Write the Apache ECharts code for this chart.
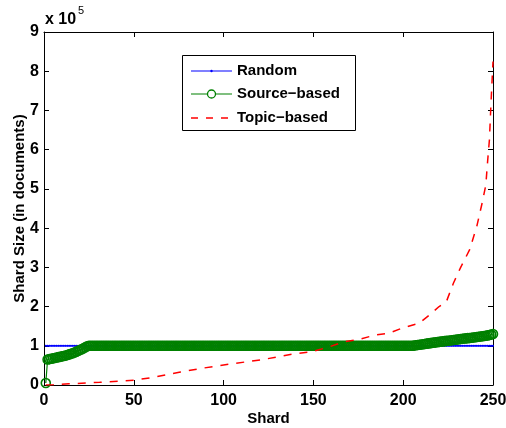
<!DOCTYPE html>
<html>
<head>
<meta charset="utf-8">
<script src="https://cdn.jsdelivr.net/npm/echarts@6/dist/echarts.min.js"></script>
<style>html,body{margin:0;padding:0;background:#fff;}#c{width:506px;height:428px;}</style>
</head>
<body>
<div id="c"></div>
<script>
var xTicks = [0, 50, 100, 150, 200, 250];
var yTickLabels = ['0','1','2','3','4','5','6','7','8','9'];
var seriesNames = ['Random', 'Source\u2212based', 'Topic\u2212based'];

var randomSizes = [
100000,100000,100000,100000,100000,100000,100000,100000,100000,100000,
100000,100000,100000,100000,100000,100000,100000,100000,100000,100000,
100000,100000,100000,100000,100000,100000,100000,100000,100000,100000,
100000,100000,100000,100000,100000,100000,100000,100000,100000,100000,
100000,100000,100000,100000,100000,100000,100000,100000,100000,100000,
100000,100000,100000,100000,100000,100000,100000,100000,100000,100000,
100000,100000,100000,100000,100000,100000,100000,100000,100000,100000,
100000,100000,100000,100000,100000,100000,100000,100000,100000,100000,
100000,100000,100000,100000,100000,100000,100000,100000,100000,100000,
100000,100000,100000,100000,100000,100000,100000,100000,100000,100000,
100000,100000,100000,100000,100000,100000,100000,100000,100000,100000,
100000,100000,100000,100000,100000,100000,100000,100000,100000,100000,
100000,100000,100000,100000,100000,100000,100000,100000,100000,100000,
100000,100000,100000,100000,100000,100000,100000,100000,100000,100000,
100000,100000,100000,100000,100000,100000,100000,100000,100000,100000,
100000,100000,100000,100000,100000,100000,100000,100000,100000,100000,
100000,100000,100000,100000,100000,100000,100000,100000,100000,100000,
100000,100000,100000,100000,100000,100000,100000,100000,100000,100000,
100000,100000,100000,100000,100000,100000,100000,100000,100000,100000,
100000,100000,100000,100000,100000,100000,100000,100000,100000,100000,
100000,100000,100000,100000,100000,100000,100000,100000,100000,100000,
100000,100000,100000,100000,100000,100000,100000,100000,100000,100000,
100000,100000,100000,100000,100000,100000,100000,100000,100000,100000,
100000,100000,100000,100000,100000,100000,100000,100000,100000,100000,
100000,100000,100000,100000,100000,100000,100000,100000,100000,100000
];

var sourceSizes = [
5000,65000,66000,67000,68000,69000,70000,71000,72000,73000,
74000,75000,76500,78000,79500,81000,83000,85000,87000,89000,
91000,93500,96000,98500,100000,
100000,100000,100000,100000,100000,100000,100000,100000,100000,100000,
100000,100000,100000,100000,100000,100000,100000,100000,100000,100000,
100000,100000,100000,100000,100000,100000,100000,100000,100000,100000,
100000,100000,100000,100000,100000,100000,100000,100000,100000,100000,
100000,100000,100000,100000,100000,100000,100000,100000,100000,100000,
100000,100000,100000,100000,100000,100000,100000,100000,100000,100000,
100000,100000,100000,100000,100000,100000,100000,100000,100000,100000,
100000,100000,100000,100000,100000,100000,100000,100000,100000,100000,
100000,100000,100000,100000,100000,100000,100000,100000,100000,100000,
100000,100000,100000,100000,100000,100000,100000,100000,100000,100000,
100000,100000,100000,100000,100000,100000,100000,100000,100000,100000,
100000,100000,100000,100000,100000,100000,100000,100000,100000,100000,
100000,100000,100000,100000,100000,100000,100000,100000,100000,100000,
100000,100000,100000,100000,100000,100000,100000,100000,100000,100000,
100000,100000,100000,100000,100000,100000,100000,100000,100000,100000,
100000,100000,100000,100000,100000,100000,100000,100000,100000,100000,
100000,100000,100000,100000,100000,100000,100000,100000,100000,100000,
100000,100000,100000,100000,100000,100000,100000,100000,100000,100000,
100500,101200,101900,102600,103300,104000,104700,105400,106000,106700,
107400,108000,108700,109300,110000,110600,111200,111800,112400,113000,
113600,114200,114800,115400,116000,116600,117200,117800,118400,119000,
119500,120000,120600,121200,121800,122400,123000,123600,124200,124900,
125600,126400,127300,128500,130000
];

var topicShards = [1,5,14,31,50,60,68,76,87,103,122,140,149,158,166,176,184,192,200,209,215,220,224,228,232,237,241,244,246,247,248,249,250];
var topicSizes  = [0,500,3000,7000,12000,19000,26000,33000,42000,53000,65000,80000,85000,96000,109000,117000,127000,132000,146000,158000,180000,200000,212000,260000,300000,345000,405000,465000,510000,570000,625000,730000,825000];

var FONT = 'Arial, "Liberation Sans", Helvetica, sans-serif';
var COLORS = ['#0000ff', '#008000', '#ff0000'];

function pairs(xs, ys) {
  var out = [];
  for (var i = 0; i < ys.length; i++) out.push([xs[i], ys[i]]);
  return out;
}
var shardIds = [];
for (var i = 1; i <= sourceSizes.length; i++) shardIds.push(i);

var chart = echarts.init(document.getElementById('c'), null, {renderer: 'canvas'});

function axisCommon() {
  return {
    axisLine: {show: true, onZero: false, lineStyle: {color: '#000', width: 1}},
    axisTick: {show: true, inside: true, length: 5, lineStyle: {color: '#000'}},
    splitLine: {show: false},
    nameMoveOverlap: false
  };
}

// legend drawn as graphic elements (box, sample lines, markers, labels)
var LG = {x: 182, y: 55, w: 173, h: 75, rows: [71, 94, 118], lx0: 191, lx1: 232, tx: 237};
var legendGraphics = [
  {type: 'rect', shape: {x: LG.x + 0.5, y: LG.y + 0.5, width: LG.w, height: LG.h},
   style: {fill: '#fff', stroke: '#000', lineWidth: 1}, z: 100}
];
seriesNames.forEach(function (name, k) {
  var y = LG.rows[k];
  var ls = {stroke: COLORS[k], lineWidth: k === 2 ? 1.5 : 1.2};
  if (k === 2) ls.lineDash = [7, 8];
  legendGraphics.push({type: 'line', shape: {x1: LG.lx0, y1: y, x2: LG.lx1, y2: y}, style: ls, z: 101});
  if (k === 0) {
    legendGraphics.push({type: 'circle', shape: {cx: (LG.lx0 + LG.lx1) / 2, cy: y, r: 1.2},
      style: {fill: COLORS[0]}, z: 102});
  } else if (k === 1) {
    legendGraphics.push({type: 'circle', shape: {cx: (LG.lx0 + LG.lx1) / 2, cy: y, r: 4},
      style: {fill: '#fff', stroke: COLORS[1], lineWidth: 1.3}, z: 102});
  }
  legendGraphics.push({type: 'text', x: LG.tx, y: y,
    style: {text: name, fontFamily: FONT, fontWeight: 'bold', fontSize: 15, fill: '#000',
      verticalAlign: 'middle', align: 'left'}, z: 102});
});

chart.setOption({
  animation: false,
  backgroundColor: '#fff',
  grid: {left: 44, right: 13, top: 32, bottom: 43, containLabel: false, outerBoundsMode: 'none'},
  xAxis: [
    Object.assign(axisCommon(), {
      type: 'value', min: xTicks[0], max: xTicks[xTicks.length - 1], interval: 50,
      position: 'bottom',
      name: 'Shard', nameLocation: 'middle', nameGap: 26,
      nameTextStyle: {fontFamily: FONT, fontWeight: 'bold', fontSize: 15, color: '#000'},
      axisLabel: {fontFamily: FONT, fontWeight: 'bold', fontSize: 16, color: '#000', margin: 8}
    }),
    Object.assign(axisCommon(), {
      type: 'value', min: xTicks[0], max: xTicks[xTicks.length - 1], interval: 50,
      position: 'top', axisLabel: {show: false}
    })
  ],
  yAxis: [
    Object.assign(axisCommon(), {
      type: 'value', min: 0, max: 900000, interval: 100000,
      position: 'left',
      name: 'Shard Size (in documents)', nameLocation: 'middle', nameGap: 17,
      nameTextStyle: {fontFamily: FONT, fontWeight: 'bold', fontSize: 15, color: '#000'},
      axisLabel: {fontFamily: FONT, fontWeight: 'bold', fontSize: 16, color: '#000', margin: 5,
        formatter: function (v) { return yTickLabels[Math.round(v / 100000)]; }}
    }),
    Object.assign(axisCommon(), {
      type: 'value', min: 0, max: 900000, interval: 100000,
      position: 'right', axisLabel: {show: false}
    })
  ],
  graphic: [
    {type: 'text', left: 45, top: 12, style: {text: 'x 10', fontFamily: FONT, fontWeight: 'bold', fontSize: 16, fill: '#000'}},
    {type: 'text', left: 78, top: 5, style: {text: '5', fontFamily: FONT, fontWeight: 'normal', fontSize: 11, fill: '#000'}}
  ].concat(legendGraphics),
  series: [
    {
      name: seriesNames[0], type: 'line', data: pairs(shardIds, randomSizes),
      showAllSymbol: true, symbol: 'circle', symbolSize: 2,
      itemStyle: {color: COLORS[0]}, lineStyle: {color: COLORS[0], width: 1.2}, z: 2
    },
    {
      name: seriesNames[1], type: 'line', data: pairs(shardIds, sourceSizes),
      showAllSymbol: true, symbol: 'circle', symbolSize: 9,
      itemStyle: {color: 'rgba(0,0,0,0)', borderColor: COLORS[1], borderWidth: 1.6},
      lineStyle: {color: COLORS[1], width: 1.2}, z: 3
    },
    {
      name: seriesNames[2], type: 'line', data: pairs(topicShards, topicSizes),
      symbol: 'none',
      itemStyle: {color: COLORS[2]},
      lineStyle: {color: COLORS[2], width: 1.5, type: [8, 8]}, z: 4
    }
  ]
});
</script>
</body>
</html>
